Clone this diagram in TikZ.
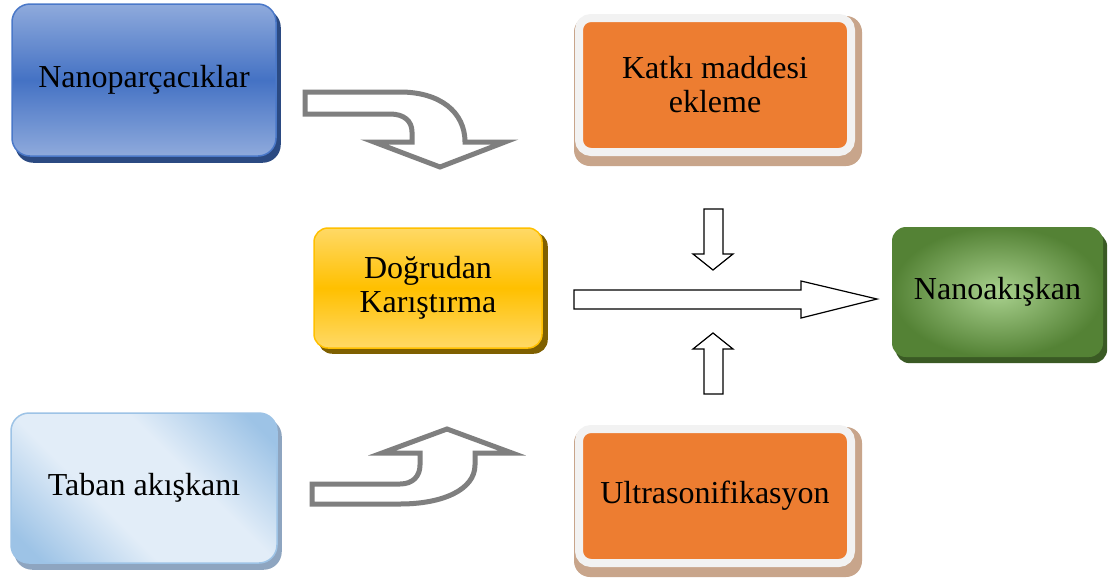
\documentclass[tikz,border=0pt]{standalone}
\usepackage{fontspec}
\setmainfont{Liberation Serif}[Ligatures={NoCommon}]
\usetikzlibrary{backgrounds}
\definecolor{npLight}{HTML}{8FAADC}
\definecolor{npDark}{HTML}{4472C4}
\definecolor{npBorder}{HTML}{4A78C8}
\definecolor{npShadow}{HTML}{2B4A82}
\definecolor{orangeFill}{HTML}{ED7D31}
\definecolor{frameGray}{HTML}{F2F2F2}
\definecolor{orangeShadow}{HTML}{C8A58B}
\definecolor{yelLight}{HTML}{FFD966}
\definecolor{yelDark}{HTML}{FFC000}
\definecolor{yelShadow}{HTML}{7F6000}
\definecolor{grnLight}{HTML}{A9D18E}
\definecolor{grnDark}{HTML}{548235}
\definecolor{grnShadow}{HTML}{3A5A24}
\definecolor{tbLight}{HTML}{E2EDF8}
\definecolor{tbBlue}{HTML}{9DC3E6}
\definecolor{tbShadow}{HTML}{8EA5C0}
\definecolor{arrowGray}{HTML}{7F7F7F}
\pgfdeclareverticalshading{tbshade}{100bp}{color(0bp)=(tbBlue); color(20bp)=(tbBlue);
  color(40bp)=(tbLight); color(60bp)=(tbLight); color(80bp)=(tbBlue); color(100bp)=(tbBlue)}
\begin{document}
\begin{tikzpicture}[x=1pt,y=-1pt,
  box/.style={rounded corners=18pt, align=center, inner sep=0pt, text=black,
    font=\fontsize{32}{34}\selectfont},
  framed/.style={box, rounded corners=12pt, fill=orangeFill, draw=frameGray, line width=8pt,
    minimum width=272pt, minimum height=134pt},
  curvearrow/.style={draw=arrowGray, line width=5pt, fill=white, line join=miter},
  blockarrow/.style={draw=black, line width=1.2pt, fill=white}]
\useasboundingbox (0,0) rectangle (1109,579);

% boxes
\node[box, minimum width=264pt, minimum height=152pt, top color=npLight, bottom color=npLight,
      middle color=npDark, draw=npBorder, line width=1.5pt] (np) at (144,80) {Nanoparçacıklar};
\node[framed] (kat) at (715,85) {Katkı maddesi\\ekleme};
\node[framed] (us) at (715,496) {Ultrasonifikasyon};
\node[box, rounded corners=14pt, minimum width=228pt, minimum height=120pt, top color=yelLight,
      bottom color=yelLight, middle color=yelDark, draw=yelDark, line width=1.5pt]
      (dk) at (428,288) {Doğrudan\\Karıştırma};
\node[box, rounded corners=14pt, minimum width=211pt, minimum height=130pt, inner color=grnLight,
      outer color=grnDark] (na) at (997.5,292) {Nanoakışkan};
\node[box, minimum width=266pt, minimum height=150pt, shading=tbshade, shading angle=-45,
      draw=tbBlue, line width=1.5pt]
      (tb) at (144,488) {Taban akışkanı};

% shadows
\begin{scope}[on background layer]
  \fill[white] (0,0) rectangle (1109,579);
  \fill[npShadow, rounded corners=18pt] ([shift={(4,6)}]np.north west) rectangle ([shift={(4,6)}]np.south east);
  \fill[orangeShadow, rounded corners=16pt] ([shift={(-1,2)}]kat.north west) rectangle ([shift={(7,10)}]kat.south east);
  \fill[orangeShadow, rounded corners=16pt] ([shift={(-1,2)}]us.north west) rectangle ([shift={(7,10)}]us.south east);
  \fill[yelShadow, rounded corners=14pt] ([shift={(5,5)}]dk.north west) rectangle ([shift={(5,5)}]dk.south east);
  \fill[grnShadow, rounded corners=14pt] ([shift={(4,6)}]na.north west) rectangle ([shift={(4,6)}]na.south east);
  \fill[tbShadow, rounded corners=18pt] ([shift={(4,6)}]tb.north west) rectangle ([shift={(4,6)}]tb.south east);
\end{scope}

% curved arrows
\draw[curvearrow] (305,92) -- (400,92) .. controls (440,92) and (465,112) .. (465,142)
  -- (505,142) -- (440,167) -- (374,142) -- (412,142) -- (412,132)
  .. controls (412,121) and (404,114) .. (390,114) -- (305,114) -- cycle;
\draw[curvearrow] (312,484) -- (400,484) .. controls (413,484) and (420,476) .. (420,465)
  -- (420,453) -- (382,453) -- (447,429) -- (512,453) -- (475,453) -- (475,465)
  .. controls (475,490) and (442,504) .. (400,504) -- (312,504) -- cycle;

% straight block arrows
\draw[blockarrow] (704,209) -- (723,209) -- (723,254) -- (733,254) -- (713,270) -- (693,254) -- (704,254) -- cycle;
\draw[blockarrow] (574,290) -- (801,290) -- (801,281) -- (877,299) -- (801,318) -- (801,309) -- (574,309) -- cycle;
\draw[blockarrow] (704,394) -- (723,394) -- (723,349) -- (733,349) -- (713,333) -- (693,349) -- (704,349) -- cycle;
\end{tikzpicture}
\end{document}
